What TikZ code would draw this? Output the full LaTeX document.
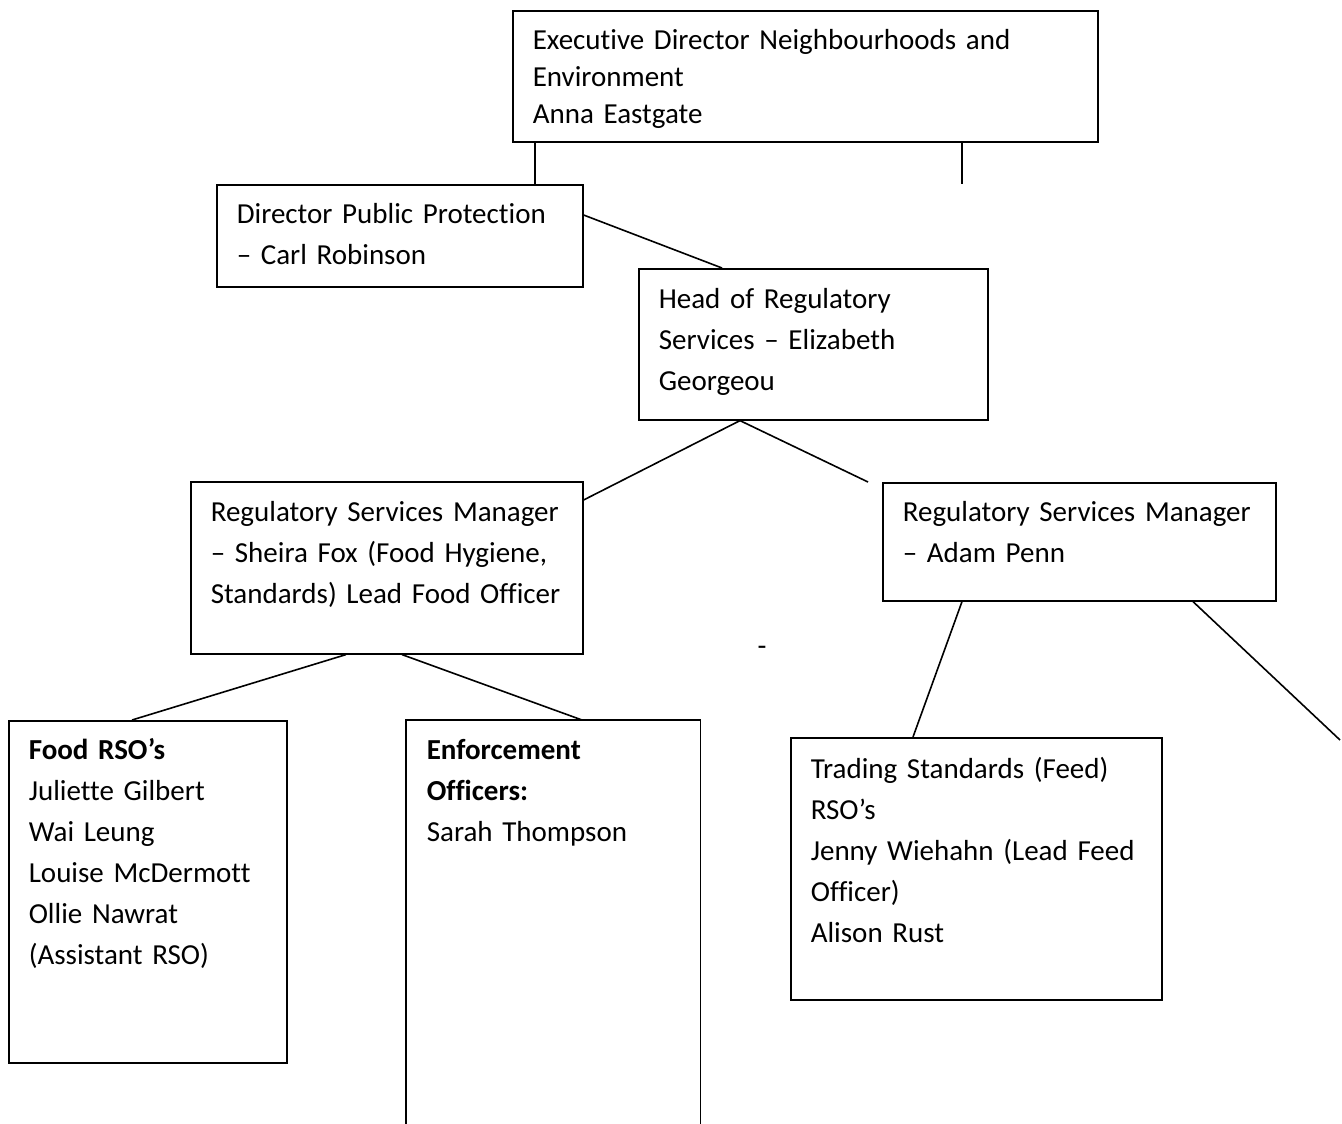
\documentclass[tikz,border=0pt]{standalone}
\usepackage{fontspec}
\setmainfont{Carlito}[Ligatures=NoCommon]
\usepackage{tikz}
\usetikzlibrary{positioning}

\tikzset{
  orgbox/.style={draw, line width=1.6pt, anchor=north west, align=left,
    inner xsep=20pt, inner ysep=0pt, font=\fontsize{29}{41}\selectfont},
  link/.style={line width=1.6pt}
}

\begin{document}
\begin{tikzpicture}[x=1pt, y=-1pt]
\useasboundingbox (0,0) rectangle (1342,1124);
% top level
\node[orgbox, text width=545pt, text height=39pt, text depth=92pt, font=\fontsize{29}{37}\selectfont] (exec) at (512,10) {Executive Director Neighbourhoods and\\Environment\\Anna Eastgate};
\node[orgbox, text width=326pt, text height=39pt, text depth=63pt] (dir) at (216,184) {Director Public Protection\\-- Carl Robinson};
\node[orgbox, text width=309pt, text height=40pt, text depth=111pt] (head) at (638,268) {Head of Regulatory\\Services -- Elizabeth\\Georgeou};
% managers
\node[orgbox, text width=352pt, text height=40pt, text depth=132pt] (rsm1) at (190,481) {Regulatory Services Manager\\-- Sheira Fox (Food Hygiene,\\Standards) Lead Food Officer};
\node[orgbox, text width=353pt, text height=39pt, text depth=79pt] (rsm2) at (882,482) {Regulatory Services Manager\\-- Adam Penn};
% teams
\node[orgbox, text width=238pt, text height=39pt, text depth=303pt] (food) at (8,720) {\textbf{Food RSO’s}\\Juliette Gilbert\\Wai Leung\\Louise McDermott\\Ollie Nawrat\\(Assistant RSO)};
\node[orgbox, draw=none, text width=253pt, text height=39pt, text depth=378pt] (enf) at (406,720) {\textbf{Enforcement}\\\textbf{Officers:}\\Sarah Thompson};
\draw[link] (enf.south west) -- (enf.north west) -- (enf.north east) -- (enf.south east);
\node[orgbox, text width=331pt, text height=41pt, text depth=221pt] (trade) at (790,737) {Trading Standards (Feed)\\RSO’s\\Jenny Wiehahn (Lead Feed\\Officer)\\Alison Rust};
\node[font=\fontsize{29}{29}\selectfont, inner sep=0pt] (dash) at (762,651) {-};

\coordinate (stub) at (962,184);
\coordinate (offpage) at (1340,740);

\draw[link] ([xshift=23pt]exec.south west) -- ([xshift=23pt]exec.south west |- dir.north);
\draw[link] (exec.south -| stub) -- (stub);
\draw[link] ([yshift=-31pt]dir.north east) -- ([xshift=84pt]head.north west);
\draw[link] ([xshift=102pt]head.south west) -- ([yshift=-19pt]rsm1.north east);
\draw[link] ([xshift=102pt]head.south west) -- ([xshift=-14pt]rsm2.north west);
\draw[link] ([xshift=156pt]rsm1.south west) -- ([xshift=124pt]food.north west);
\draw[link] ([xshift=212pt]rsm1.south west) -- ([xshift=176pt]enf.north west);
\draw[link] ([xshift=80pt]rsm2.south west) -- ([xshift=123pt]trade.north west);
\draw[link] ([xshift=311pt]rsm2.south west) -- (offpage);
\end{tikzpicture}
\end{document}
